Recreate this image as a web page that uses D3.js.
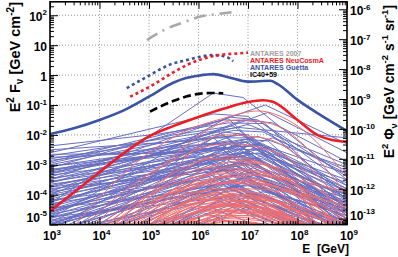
<!DOCTYPE html>
<html>
<head>
<meta charset="utf-8">
<script src="https://cdn.jsdelivr.net/npm/d3@7"></script>
<style>
  body { margin: 0; background: #fff; }
  svg { display: block; font-family: "Liberation Sans", Arial, sans-serif; font-weight: bold; }
</style>
</head>
<body>
<script>
// all values are log10(E / GeV) , log10(E^2 F / GeV cm^-2)

// model curves
const guettaModel = [[3,-1.97],[3.5,-1.77],[4,-1.5],[4.5,-1.17],[5,-0.72],[5.5,-0.25],[5.75,-0.1],[6,-0.02],[6.3,0.03],[6.6,-0.07],[7.0,-0.22],[7.45,-0.19],[7.6,-0.3],[8,-0.83],[8.5,-1.37],[9,-1.87]];
const neuCosmAModel = [[3,-4.55],[3.5,-3.9],[4,-3.25],[4.5,-2.6],[5,-2.05],[5.5,-1.7],[6,-1.4],[6.5,-1.13],[7,-0.9],[7.3,-0.84],[7.5,-0.89],[8,-1.5],[8.4,-2.0],[8.7,-2.17],[9,-2.23]];

// limits
const icLimit = [[5.02,-1.22],[5.5,-0.86],[5.75,-0.72],[6.0,-0.63],[6.25,-0.6],[6.5,-0.61]];
const antaresGuetta = [[4.55,-0.44],[5.02,0.0],[5.42,0.35],[5.76,0.5],[6.03,0.61],[6.29,0.67],[6.57,0.6],[6.7,0.46]];
const antaresNeuCosmA = [[4.62,-0.72],[5.08,-0.33],[5.45,0.05],[5.77,0.34],[6.1,0.55],[6.45,0.68],[6.78,0.72],[7.0,0.75]];
const antares2007 = [[4.96,1.17],[5.33,1.53],[5.73,1.78],[6.02,1.95],[6.39,2.04],[6.79,2.13]];

// individual bursts, Guetta model (flat pairs x,y)
const blueBursts = [
  [3,-2.37, 5.2,-1.97, 6.6,-1.6, 7.3,-1.62, 9,-3.4],
  [3,-2.6, 6.3,-1.3, 7.0,-1.38, 9,-4.0],
  [3,-4.3, 6.3,-0.6, 6.9,-0.75, 9,-3.5],
  [3,-3.5, 7.35,-1.0, 9,-2.3],
  [3,-3.9, 7.4,-1.25, 9,-2.6],
  [3,-2.9, 6.5,-1.5, 7.3,-1.55, 9,-4.2],
  [3,-3.1, 6.6,-1.45, 9,-5.2],
  [3,-3.3, 7.0,-1.65, 9,-3.0],
  [3,-2.95, 5.5,-2.0, 6.7,-1.7, 9,-4.6],
  [3,-4.8, 6.6,-1.4, 7.2,-1.5, 9,-3.7],
  [3,-2.7, 6.8,-1.75, 9,-2.1],
  [3,-4.0, 6.9,-1.5, 7.5,-1.6, 9,-2.9],
  [3,-3.0, 6.4,-1.9, 9,-4.8],
  [3,-3.4, 6.7,-1.85, 7.3,-1.9, 9,-3.3],
  [3,-2.8, 5.0,-2.3, 6.9,-2.0, 9,-3.8],
  [3,-3.6, 6.5,-2.0, 9,-5.5],
  [3,-3.2, 6.2,-2.1, 7.1,-2.1, 9,-4.4],
  [3,-4.4, 6.8,-1.95, 9,-3.9],
  [3,-3.75, 7.2,-2.05, 9,-3.1],
  [3,-3.05, 6.6,-2.2, 9,-4.1],
  [3,-3.5, 6.1,-2.3, 7.0,-2.25, 9,-5.0],
  [3,-5.2, 6.5,-1.9, 7.0,-2.0, 9,-4.7],
  [3,-3.85, 6.9,-2.3, 9,-3.5],
  [3,-4.1, 6.4,-2.4, 9,-5.4],
  [3,-3.3, 5.8,-2.5, 7.3,-2.35, 9,-3.9],
  [3,-4.6, 7.0,-2.2, 9,-4.2],
  [3,-3.95, 6.6,-2.55, 9,-4.6],
  [3,-4.25, 7.4,-2.4, 9,-3.3],
  [3,-5.6, 6.3,-2.1, 9,-5.8],
  [3,-4.5, 6.8,-2.6, 7.4,-2.65, 9,-4.0],
  [3,-3.7, 6.0,-2.7, 9,-5.6],
  [3,-4.9, 6.7,-2.5, 9,-4.9],
  [3,-3.45, 6.5,-2.75, 9,-5.2],
  [3,-5.4, 7.1,-2.45, 9,-3.8],
  [3,-4.15, 6.2,-2.8, 7.2,-2.85, 9,-4.5],
  [3,-6.0, 6.6,-2.3, 9,-4.4],
  [3,-4.7, 7.3,-2.7, 9,-3.6],
  [3,-5.0, 6.4,-2.9, 9,-5.3],
  [3,-4.05, 6.7,-3.0, 9,-4.3],
  [3,-4.4, 6.2,-3.1, 9,-5.9],
  [3,-3.9, 5.5,-3.3, 7.0,-3.0, 9,-4.8],
  [3,-5.1, 6.9,-2.95, 9,-4.0],
  [3,-4.55, 6.5,-3.2, 9,-5.1],
  [3,-5.8, 6.8,-3.1, 9,-4.6],
  [3,-4.3, 7.1,-3.25, 9,-4.1],
  [3,-4.8, 6.3,-3.35, 9,-5.7],
  [3,-6.3, 6.6,-2.9, 7.2,-3.0, 9,-5.0],
  [3,-4.95, 7.0,-3.4, 9,-4.4],
  [3,-5.3, 6.4,-3.5, 9,-5.5],
  [3,-4.65, 6.8,-3.55, 9,-4.9],
  [3,-5.5, 7.2,-3.3, 9,-4.2],
  [3,-6.6, 6.5,-3.4, 9,-5.6],
  [3,-5.05, 6.1,-3.7, 9,-6.0],
  [3,-5.7, 6.9,-3.6, 9,-4.7],
  [3,-4.85, 6.6,-3.8, 9,-5.3],
  [3,-6.9, 7.0,-3.5, 9,-4.5],
  [3,-5.9, 6.3,-3.85, 9,-5.8],
  [3,-5.25, 6.8,-4.0, 9,-5.1],
  [3,-7.2, 6.7,-3.7, 9,-5.2],
  [3,-6.2, 7.3,-3.9, 9,-4.6],
  [3,-5.6, 6.4,-4.1, 9,-6.0],
  [3,-6.5, 6.9,-4.2, 9,-5.4],
  [3,-7.5, 6.6,-4.0, 9,-5.7],
  [3,-6.8, 7.1,-4.35, 9,-5.2],
  [3,-7.8, 6.8,-4.5, 9,-5.8],
  [3,-7.0, 6.2,-4.4, 9,-6.2],
  [3,-2.5, 5.8,-2.2, 6.9,-2.0, 9,-5.0],
  [3,-2.65, 6.0,-2.6, 9,-5.3],
  [3,-2.75, 6.5,-2.5, 9,-5.8],
  [3,-3.15, 6.7,-2.45, 9,-4.3],
  [3,-3.55, 6.9,-2.7, 9,-4.0],
  [3,-3.65, 6.3,-2.95, 9,-5.0],
  [3,-3.8, 6.8,-3.15, 9,-4.4],
  [3,-4.2, 6.0,-3.5, 9,-5.7],
  [3,-4.45, 7.0,-3.7, 9,-4.7],
  [3,-4.75, 6.5,-4.1, 9,-5.5],
  [3,-3.25, 6.9,-2.15, 7.4,-2.2, 9,-4.5],
  [3,-3.6, 6.5,-2.35, 9,-4.9],
  [3,-4.0, 7.2,-2.6, 9,-3.9],
  [3,-4.35, 6.3,-2.65, 9,-5.6],
  [3,-3.35, 5.6,-2.8, 7.0,-2.6, 9,-4.4],
  [3,-5.3, 6.9,-2.2, 9,-4.3],
  [3,-4.6, 6.6,-2.75, 7.3,-2.8, 9,-4.1],
  [3,-5.0, 7.0,-2.85, 9,-4.5],
  [3,-4.2, 6.4,-3.05, 9,-5.2],
  [3,-3.75, 6.0,-3.1, 9,-6.0],
  [3,-5.5, 6.7,-3.0, 9,-4.8],
  [3,-4.75, 6.9,-3.3, 9,-4.5],
  [3,-6.1, 7.1,-3.1, 9,-4.3],
  [3,-4.5, 6.2,-3.4, 9,-5.8],
  [3,-5.2, 6.6,-3.6, 9,-5.0],
  [3,-4.9, 7.2,-3.6, 9,-4.6],
  [3,-6.4, 6.5,-3.7, 9,-5.4],
  [3,-5.45, 6.8,-3.8, 9,-4.9],
  [3,-5.0, 6.0,-3.9, 9,-6.2],
  [3,-6.0, 7.0,-3.95, 9,-5.0],
  [3,-7.1, 6.4,-4.2, 9,-5.9],
  [3,-5.8, 6.7,-4.3, 9,-5.5],
  [3,-7.4, 7.2,-4.0, 9,-5.1],
  [3,-6.7, 6.1,-4.6, 9,-6.3],
  [3,-3.2, 6.1,-2.45, 7.2,-2.5, 9,-4.7],
  [3,-2.85, 5.7,-2.35, 6.8,-2.3, 9,-5.1],
  [3,-3.05, 7.3,-2.3, 9,-3.7],
  [3,-4.65, 7.5,-2.1, 9,-3.2]
];

// individual bursts, NeuCosmA model
const redBursts = [
  [3,-6.0, 5.0,-2.6, 5.7,-1.9, 6.5,-1.45, 7.2,-1.2, 8.0,-1.7, 9,-3.4],
  [3,-6.5, 5,-3.4, 6.8,-1.5, 7.4,-1.6, 9,-4.0],
  [3,-7.0, 5,-4.0, 6.5,-2.0, 7.3,-2.1, 9,-4.5],
  [3,-6.2, 5,-3.3, 6.6,-2.3, 7.6,-2.6, 9,-4.9],
  [3,-6.8, 5,-4.1, 6.4,-2.7, 7.4,-3.0, 9,-5.6],
  [3,-7.2, 5,-4.4, 6.7,-2.9, 7.6,-3.1, 9,-4.6],
  [3,-6.6, 5,-4.0, 6.2,-3.1, 7.2,-3.2, 9,-5.9],
  [3,-7.5, 5,-4.6, 6.9,-3.0, 7.8,-3.5, 9,-5.0],
  [3,-6.9, 5,-4.3, 6.5,-3.3, 7.4,-3.4, 9,-5.4],
  [3,-7.8, 5,-4.8, 6.6,-3.4, 7.5,-3.6, 9,-5.2],
  [3,-7.1, 5,-4.5, 6.3,-3.6, 7.2,-3.7, 9,-6.0],
  [3,-8.0, 5,-5.0, 7.0,-3.5, 7.8,-3.9, 9,-5.1],
  [3,-7.4, 5,-4.7, 6.4,-3.8, 7.3,-4.0, 9,-6.1],
  [3,-7.6, 5,-4.9, 6.7,-3.9, 7.6,-4.1, 9,-5.5],
  [3,-7.3, 5,-4.8, 6.1,-4.0, 7.0,-4.0, 9,-6.3],
  [3,-8.2, 5,-5.2, 6.8,-4.0, 7.7,-4.3, 9,-5.7],
  [3,-7.7, 5,-5.0, 6.5,-4.1, 7.4,-4.2, 9,-6.0],
  [3,-8.4, 5,-5.4, 6.9,-4.2, 7.8,-4.6, 9,-5.6],
  [3,-7.9, 5,-5.1, 6.3,-4.2, 7.2,-4.3, 9,-6.4],
  [3,-8.6, 5,-5.6, 6.6,-4.3, 7.5,-4.5, 9,-6.0],
  [3,-8.0, 5,-5.3, 6.0,-4.4, 7.0,-4.4, 9,-6.5],
  [3,-8.8, 5,-5.7, 7.0,-4.4, 7.9,-4.8, 9,-5.8],
  [3,-8.3, 5,-5.5, 6.4,-4.5, 7.3,-4.6, 9,-6.3],
  [3,-9.0, 5,-5.9, 6.7,-4.6, 7.6,-4.8, 9,-6.1],
  [3,-8.5, 5,-5.6, 6.2,-4.7, 7.1,-4.7, 9,-6.6],
  [3,-9.2, 5,-6.0, 6.9,-4.7, 7.8,-5.0, 9,-6.0],
  [3,-8.7, 5,-5.8, 6.5,-4.8, 7.4,-4.9, 9,-6.4],
  [3,-9.4, 5,-6.2, 6.6,-4.9, 7.5,-5.1, 9,-6.3],
  [3,-8.9, 5,-6.0, 6.3,-5.0, 7.2,-5.05, 9,-6.6],
  [3,-9.6, 5,-6.4, 6.8,-5.0, 7.7,-5.3, 9,-6.2],
  [3,-7.5, 5,-4.6, 6.0,-3.9, 6.9,-4.0, 9,-6.6],
  [3,-7.0, 5,-4.2, 6.8,-3.6, 7.9,-3.9, 9,-4.9],
  [3,-8.1, 5,-5.0, 7.2,-4.1, 8.0,-4.5, 9,-5.3],
  [3,-7.8, 5,-4.9, 5.9,-4.3, 6.8,-4.35, 9,-6.8],
  [3,-8.6, 5,-5.4, 7.1,-4.5, 8.0,-4.9, 9,-5.6],
  [3,-9.1, 5,-5.7, 6.1,-4.85, 7.0,-4.9, 9,-6.9],
  [3,-8.4, 5,-5.1, 7.3,-4.3, 8.1,-4.6, 9,-5.2],
  [3,-9.3, 5,-6.1, 7.0,-4.95, 7.9,-5.2, 9,-6.0],
  [3,-8.0, 5,-5.0, 6.8,-3.8, 7.8,-3.9, 9,-4.4],
  [3,-7.4, 5,-4.4, 7.0,-3.3, 7.9,-3.5, 9,-3.9],
  [3,-7.6, 5,-4.8, 6.6,-4.05, 7.5,-4.2, 9,-5.9],
  [3,-8.2, 5,-5.2, 6.4,-4.35, 7.3,-4.45, 9,-6.2],
  [3,-8.8, 5,-5.6, 6.9,-4.5, 7.8,-4.8, 9,-5.9],
  [3,-8.1, 5,-5.3, 6.2,-4.55, 7.1,-4.6, 9,-6.5],
  [3,-9.0, 5,-5.8, 6.7,-4.75, 7.6,-4.95, 9,-6.2],
  [3,-8.5, 5,-5.5, 7.2,-4.6, 8.0,-5.0, 9,-5.7],
  [3,-9.2, 5,-6.0, 6.5,-4.9, 7.4,-5.0, 9,-6.5],
  [3,-7.2, 5,-4.3, 6.5,-3.5, 7.5,-3.7, 9,-5.4],
  [3,-7.0, 5,-4.0, 6.9,-3.2, 7.9,-3.6, 9,-4.8],
  [3,-6.6, 5,-3.8, 6.3,-2.8, 7.1,-2.9, 9,-5.5],
  [3,-7.9, 5,-5.0, 6.0,-4.15, 6.9,-4.2, 9,-6.7],
  [3,-8.3, 5,-5.2, 7.4,-4.2, 8.2,-4.5, 9,-5.0]
];

const xDecades = [3, 4, 5, 6, 7, 8, 9];
const yDecades = [-5, -4, -3, -2, -1, 0, 1, 2];
const phiDecades = [-13, -12, -11, -10, -9, -8, -7, -6];
const legendLabels = ["ANTARES 2007", "ANTARES NeuCosmA", "ANTARES Guetta", "IC40+59"];
const legendColors = ["#a0a0a0", "#ee1c25", "#3a53a4", "#000"];

const width = 398, height = 257;
const L = 50, R = 347, T = 1.8, B = 224.6;
const phiShift = -8.2; // right axis offset in decades

const svg = d3.select("body").append("svg").attr("width", width).attr("height", height);

const x = d3.scaleLog().domain([1e3, 1e9]).range([L, R]);
const y = d3.scaleLog().domain([1e-5, Math.pow(10, 2.45)]).range([B, T]);
const yR = d3.scaleLog()
  .domain([Math.pow(10, -5 + phiShift), Math.pow(10, 2.45 + phiShift)])
  .range([B, T]);

const line = d3.line().x((d) => x(Math.pow(10, d[0]))).y((d) => y(Math.pow(10, d[1])));
const smooth = d3.line().curve(d3.curveMonotoneX)
  .x((d) => x(Math.pow(10, d[0]))).y((d) => y(Math.pow(10, d[1])));
const toPairs = (a) => {
  const p = [];
  for (let i = 0; i < a.length; i += 2) p.push([a[i], a[i + 1]]);
  return p;
};

svg.append("clipPath").attr("id", "clip")
  .append("rect").attr("x", L).attr("y", T).attr("width", R - L).attr("height", B - T);

//grid
const grid = svg.append("g").attr("stroke", "#666").attr("stroke-width", 0.7).attr("stroke-dasharray", "1,2");
xDecades.slice(1, -1).forEach((d) => {
  grid.append("line").attr("x1", x(Math.pow(10, d))).attr("x2", x(Math.pow(10, d)))
    .attr("y1", T).attr("y2", B);
});
yDecades.slice(1).forEach((d) => {
  grid.append("line").attr("y1", y(Math.pow(10, d))).attr("y2", y(Math.pow(10, d)))
    .attr("x1", L).attr("x2", R);
});

const plot = svg.append("g").attr("clip-path", "url(#clip)");

//individual bursts
plot.append("g").selectAll("path").data(blueBursts).enter().append("path")
  .attr("d", (d) => line(toPairs(d)))
  .attr("fill", "none").attr("stroke", "rgb(104,110,192)").attr("stroke-width", 1);
plot.append("g").selectAll("path").data(redBursts).enter().append("path")
  .attr("d", (d) => smooth(toPairs(d)))
  .attr("fill", "none").attr("stroke", "rgb(242,110,110)").attr("stroke-width", 1);

//model sums and limits
plot.append("path").attr("d", smooth(guettaModel))
  .attr("fill", "none").attr("stroke", "#3a53a4").attr("stroke-width", 2.6);
plot.append("path").attr("d", smooth(neuCosmAModel))
  .attr("fill", "none").attr("stroke", "#ee1c25").attr("stroke-width", 2.6);
plot.append("path").attr("d", smooth(icLimit))
  .attr("fill", "none").attr("stroke", "#000").attr("stroke-width", 2.6).attr("stroke-dasharray", "8,4");
plot.append("path").attr("d", smooth(antaresGuetta))
  .attr("fill", "none").attr("stroke", "#3a53a4").attr("stroke-width", 2.6).attr("stroke-dasharray", "3,3");
plot.append("path").attr("d", smooth(antaresNeuCosmA))
  .attr("fill", "none").attr("stroke", "#ee1c25").attr("stroke-width", 2.6).attr("stroke-dasharray", "3,3");
plot.append("path").attr("d", smooth(antares2007))
  .attr("fill", "none").attr("stroke", "#a8a8a8").attr("stroke-width", 2.6).attr("stroke-dasharray", "12,6,2,6");

//axes ticks
const isMajor = (v) => Math.abs(Math.log10(v) - Math.round(Math.log10(v))) < 1e-6;
const xt = x.ticks();
const yt = y.ticks().filter((v) => v >= 1e-5 && v <= y.domain()[1]);
const rt = yR.ticks().filter((v) => v >= yR.domain()[0] && v <= yR.domain()[1]);

const tickAxis = (axis, values, size, tr) => {
  svg.append("g").attr("transform", tr)
    .call(axis.tickValues(values).tickSize(size).tickFormat(""))
    .call((g) => g.select(".domain").remove())
    .selectAll("line").attr("stroke", "#000").attr("stroke-width", 1);
};
tickAxis(d3.axisBottom(x), xt.filter(isMajor), -7, `translate(0,${B})`);
tickAxis(d3.axisBottom(x), xt.filter((v) => !isMajor(v)), -3.5, `translate(0,${B})`);
tickAxis(d3.axisTop(x), xt.filter(isMajor), -7, `translate(0,${T})`);
tickAxis(d3.axisTop(x), xt.filter((v) => !isMajor(v)), -3.5, `translate(0,${T})`);
tickAxis(d3.axisLeft(y), yt.filter(isMajor), -8, `translate(${L},0)`);
tickAxis(d3.axisLeft(y), yt.filter((v) => !isMajor(v)), -4, `translate(${L},0)`);
tickAxis(d3.axisRight(yR), rt.filter(isMajor), -8, `translate(${R},0)`);
tickAxis(d3.axisRight(yR), rt.filter((v) => !isMajor(v)), -4, `translate(${R},0)`);

svg.append("rect").attr("x", L).attr("y", T).attr("width", R - L).attr("height", B - T)
  .attr("fill", "none").attr("stroke", "#000").attr("stroke-width", 1.6);

//tick labels
const powLabel = (g, e) => {
  if (e === 0) { g.text("1"); return; }
  g.append("tspan").text("10");
  if (e !== 1) g.append("tspan").attr("font-size", 8).attr("dy", -5.5).text(e);
};
xDecades.forEach((d) => {
  const t = svg.append("text").attr("x", x(Math.pow(10, d)) + 2).attr("y", 240)
    .attr("text-anchor", "middle").attr("font-size", 12);
  powLabel(t, d);
});
yDecades.forEach((d) => {
  const yy = d === -5 ? 217 : y(Math.pow(10, d)) + 1;
  const t = svg.append("text").attr("x", 47).attr("y", yy + 4.5)
    .attr("text-anchor", "end").attr("font-size", 12);
  powLabel(t, d);
});
phiDecades.forEach((d) => {
  const yy = d === -13 ? 215 : yR(Math.pow(10, d)) + 1.5;
  const t = svg.append("text").attr("x", 350).attr("y", yy + 4.5)
    .attr("font-size", 12);
  powLabel(t, d);
});

//axis titles
const lt = svg.append("text").attr("transform", "translate(20,2) rotate(-90)")
  .attr("text-anchor", "end").attr("font-size", 14.5);
lt.append("tspan").text("E");
lt.append("tspan").attr("font-size", 10).attr("dy", -6).text("2");
lt.append("tspan").attr("dy", 6).text(" F");
lt.append("tspan").attr("font-size", 10).attr("dy", 3).text("ν");
lt.append("tspan").attr("dy", -3).text("  [GeV cm");
lt.append("tspan").attr("font-size", 10).attr("dy", -6).text("-2");
lt.append("tspan").attr("dy", 6).text("]");

const rtl = svg.append("text").attr("transform", "translate(394,5) rotate(-90)")
  .attr("text-anchor", "end").attr("font-size", 13.8);
rtl.append("tspan").text("E");
rtl.append("tspan").attr("font-size", 9.5).attr("dy", -6).text("2");
rtl.append("tspan").attr("dy", 6).text(" Φ");
rtl.append("tspan").attr("font-size", 9.5).attr("dy", 2.5).text("ν");
rtl.append("tspan").attr("dy", -2.5).text("  [GeV cm");
rtl.append("tspan").attr("font-size", 9.5).attr("dy", -6).text("-2");
rtl.append("tspan").attr("dy", 6).text(" s");
rtl.append("tspan").attr("font-size", 9.5).attr("dy", -6).text("-1");
rtl.append("tspan").attr("dy", 6).text(" sr");
rtl.append("tspan").attr("font-size", 9.5).attr("dy", -6).text("-1");
rtl.append("tspan").attr("dy", 6).text("]");

svg.append("text").attr("x", 349).attr("y", 253).attr("text-anchor", "end")
  .attr("font-size", 12).attr("xml:space", "preserve").text("E  [GeV]");

//legend
legendLabels.forEach((s, i) => {
  svg.append("text").attr("x", 250).attr("y", 55.5 + i * 7.3)
    .attr("font-size", 7.1).attr("fill", legendColors[i]).text(s);
});
</script>
</body>
</html>
